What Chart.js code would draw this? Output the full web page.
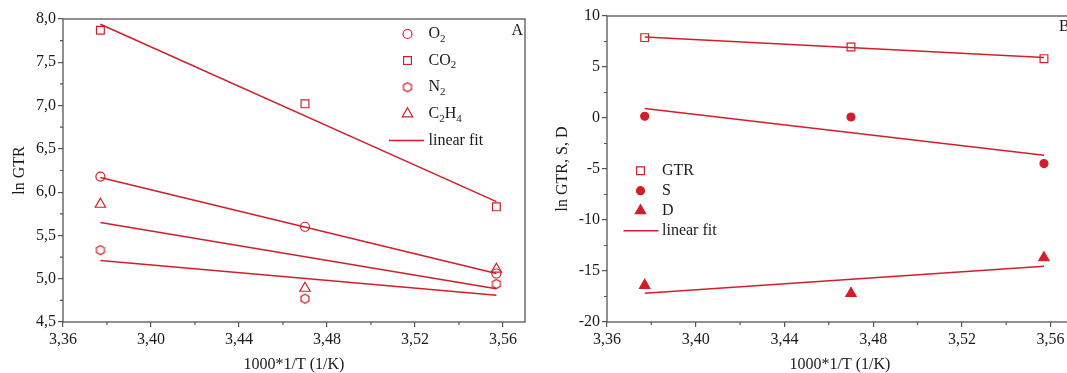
<!DOCTYPE html>
<html lang="en">
<head>
    <meta charset="UTF-8">
    <title>ln GTR x 1000/T</title>
    <script src="https://cdn.jsdelivr.net/npm/chart.js"></script>
    <style>
        html, body { margin: 0; padding: 0; background: #fff; overflow: hidden; width: 1067px; height: 373px; }
        .painel { position: absolute; top: 0; width: 540px; height: 373px; }
        #painelA { left: 0; }
        #painelB { left: 540px; }
    </style>
</head>
<body>
    <div class="painel" id="painelA"><canvas id="graficoA"></canvas></div>
    <div class="painel" id="painelB"><canvas id="graficoB"></canvas></div>

<script>
    // eixo x: 1000/T
    const invT = [3.377, 3.470, 3.557];
    const fitX = [3.377, 3.557];
    const xTicks = [3.36, 3.40, 3.44, 3.48, 3.52, 3.56];

    // painel A - ln GTR por gas
    const gasLabels = ['O_2', 'CO_2', 'N_2', 'C_2H_4'];
    const lnO2 = [6.18, 5.60, 5.06];
    const lnCO2 = [7.87, 7.02, 5.83];
    const lnN2 = [5.33, 4.77, 4.94];
    const lnC2H4 = [5.86, 4.89, 5.11];
    const fitO2 = [6.17, 5.06];
    const fitCO2 = [7.94, 5.89];
    const fitN2 = [5.21, 4.81];
    const fitC2H4 = [5.65, 4.885];
    const yTicksA = [4.5, 5.0, 5.5, 6.0, 6.5, 7.0, 7.5, 8.0];

    // painel B - ln GTR, S, D
    const labelsB = ['GTR', 'S', 'D'];
    const lnGTR = [7.88, 6.96, 5.82];
    const lnS = [0.17, 0.10, -4.47];
    const lnD = [-16.4, -17.2, -13.7];
    const fitGTR = [7.94, 5.92];
    const fitS = [0.92, -3.66];
    const fitD = [-17.19, -14.54];
    const yTicksB = [-20, -15, -10, -5, 0, 5, 10];

    const VERMELHO = '#d01f2b';
    const EIXO = '#555555';
    const TEXTO = '#1a1a1a';
    const FONTE = { family: '"Liberation Serif", "Times New Roman", serif', size: 16 };

    function pontos(xs, ys) {
        return xs.map((x, i) => ({ x: x, y: ys[i] }));
    }

    // N2 usa hexagono (nao existe no Chart.js)
    function hexagono() {
        const c = document.createElement('canvas');
        c.width = 12; c.height = 12;
        const g = c.getContext('2d');
        g.strokeStyle = VERMELHO;
        g.lineWidth = 1.2;
        g.beginPath();
        for (let i = 0; i < 6; i++) {
            const a = Math.PI / 3 * i - Math.PI / 2;
            const px = 6 + 4.6 * Math.cos(a), py = 6 + 4.6 * Math.sin(a);
            if (i) g.lineTo(px, py); else g.moveTo(px, py);
        }
        g.closePath();
        g.stroke();
        return c;
    }

    function serie(ys, estilo, raio, cheio) {
        return {
            data: pontos(invT, ys),
            showLine: false,
            pointStyle: estilo,
            pointRadius: raio,
            borderWidth: 1.2,
            borderColor: VERMELHO,
            backgroundColor: cheio ? VERMELHO : 'rgba(0,0,0,0)'
        };
    }

    function ajuste(ys) {
        return {
            data: pontos(fitX, ys),
            showLine: true,
            pointRadius: 0,
            borderWidth: 1.5,
            borderColor: VERMELHO,
            backgroundColor: VERMELHO
        };
    }

    // texto com subscrito: '_' antes do caractere
    function escreve(ctx, texto, x, y) {
        ctx.textBaseline = 'middle';
        ctx.textAlign = 'left';
        ctx.fillStyle = TEXTO;
        let sub = false;
        for (const ch of texto) {
            if (ch === '_') { sub = true; continue; }
            ctx.font = (sub ? 11 : 16) + 'px ' + FONTE.family;
            ctx.fillText(ch, x, sub ? y + 5 : y);
            x += ctx.measureText(ch).width;
            sub = false;
        }
    }

    const legendaInterna = {
        id: 'legendaInterna',
        afterDatasetsDraw(chart, args, opts) {
            const ctx = chart.ctx;
            ctx.save();
            opts.itens.forEach((item, i) => {
                const y = opts.y + i * opts.passo;
                if (item.linha) {
                    ctx.strokeStyle = VERMELHO;
                    ctx.lineWidth = 1.5;
                    ctx.beginPath();
                    ctx.moveTo(opts.linhaX0, y);
                    ctx.lineTo(opts.linhaX1, y);
                    ctx.stroke();
                } else {
                    const ds = chart.data.datasets[item.ds];
                    ctx.fillStyle = ds.backgroundColor;
                    ctx.strokeStyle = ds.borderColor;
                    ctx.lineWidth = ds.borderWidth;
                    Chart.helpers.drawPoint(ctx, {
                        pointStyle: ds.pointStyle, radius: ds.pointRadius,
                        borderWidth: ds.borderWidth, rotation: 0
                    }, opts.marcaX, y);
                }
                escreve(ctx, item.texto, opts.textoX, y);
            });
            ctx.font = '16px ' + FONTE.family;
            ctx.fillStyle = TEXTO;
            ctx.textAlign = opts.letra.align;
            ctx.textBaseline = 'middle';
            ctx.fillText(opts.letra.texto, opts.letra.x, opts.letra.y);
            ctx.restore();
        }
    };

    // moldura fechada + ticks menores
    const moldura = {
        id: 'moldura',
        afterDraw(chart) {
            const { ctx, chartArea: a, scales } = chart;
            ctx.save();
            ctx.strokeStyle = EIXO;
            ctx.lineWidth = 1.3;
            ctx.strokeRect(a.left, a.top, a.right - a.left, a.bottom - a.top);
            ctx.lineWidth = 1.2;
            ctx.beginPath();
            const xs = scales.x.ticks.map(t => t.value);
            for (let i = 0; i < xs.length - 1; i++) {
                const px = scales.x.getPixelForValue((xs[i] + xs[i + 1]) / 2);
                ctx.moveTo(px, a.bottom);
                ctx.lineTo(px, a.bottom + 3);
            }
            const ys = scales.y.ticks.map(t => t.value);
            for (let i = 0; i < ys.length - 1; i++) {
                const py = scales.y.getPixelForValue((ys[i] + ys[i + 1]) / 2);
                ctx.moveTo(a.left, py);
                ctx.lineTo(a.left - 3, py);
            }
            ctx.stroke();
            ctx.restore();
        }
    };

    function escalas(yMin, yMax, yTicks, casas, tituloY, larguraY, padTitulo) {
        return {
            x: {
                type: 'linear', min: 3.36, max: 3.57,
                afterBuildTicks: s => { s.ticks = xTicks.map(v => ({ value: v })); },
                afterFit: s => { s.height = 51; },
                grid: { drawOnChartArea: false, color: EIXO, tickLength: 5, lineWidth: 1.2 },
                border: { display: false },
                ticks: {
                    color: TEXTO, font: FONTE, padding: 3, maxRotation: 0,
                    callback: v => v.toFixed(2).replace('.', ',')
                },
                title: {
                    display: true, text: '1000*1/T (1/K)', color: TEXTO,
                    font: Object.assign({}, FONTE, { lineHeight: 1 }), padding: 0
                }
            },
            y: {
                type: 'linear', min: yMin, max: yMax,
                afterBuildTicks: s => { s.ticks = yTicks.map(v => ({ value: v })); },
                afterFit: s => { s.width = larguraY; },
                grid: { drawOnChartArea: false, color: EIXO, tickLength: 5, lineWidth: 1.2 },
                border: { display: false },
                ticks: {
                    color: TEXTO, font: FONTE, padding: 2,
                    callback: v => v.toFixed(casas).replace('.', ',')
                },
                title: {
                    display: true, text: tituloY, color: TEXTO,
                    font: Object.assign({}, FONTE, { lineHeight: 1 }),
                    padding: { top: padTitulo, bottom: 0 }
                }
            }
        };
    }

    const basePlugins = {
        legend: { display: false },
        tooltip: { enabled: false }
    };

    new Chart(document.getElementById('graficoA'), {
        type: 'scatter',
        data: {
            datasets: [
                serie(lnO2, 'circle', 4.5, false),
                serie(lnCO2, 'rect', 5.5, false),
                serie(lnN2, hexagono(), 5, false),
                serie(lnC2H4, 'triangle', 6, false),
                ajuste(fitO2),
                ajuste(fitCO2),
                ajuste(fitN2),
                ajuste(fitC2H4)
            ]
        },
        options: {
            responsive: true,
            maintainAspectRatio: false,
            animation: false,
            layout: { padding: { left: 0, top: 19, right: 15, bottom: 0 } },
            scales: escalas(4.5, 8.0, yTicksA, 1, 'ln GTR', 63, 12),
            plugins: Object.assign({}, basePlugins, {
                legendaInterna: {
                    y: 34, passo: 26.6, marcaX: 407.5, textoX: 428.5,
                    linhaX0: 389, linhaX1: 424,
                    itens: [
                        { ds: 0, texto: gasLabels[0] },
                        { ds: 1, texto: gasLabels[1] },
                        { ds: 2, texto: gasLabels[2] },
                        { ds: 3, texto: gasLabels[3] },
                        { linha: true, texto: 'linear fit' }
                    ],
                    letra: { texto: 'A', x: 523, y: 31, align: 'right' }
                }
            })
        },
        plugins: [legendaInterna, moldura]
    });

    new Chart(document.getElementById('graficoB'), {
        type: 'scatter',
        data: {
            datasets: [
                serie(lnGTR, 'rect', 5.5, false),
                serie(lnS, 'circle', 4, true),
                serie(lnD, 'triangle', 6, true),
                ajuste(fitGTR),
                ajuste(fitS),
                ajuste(fitD)
            ]
        },
        options: {
            responsive: true,
            maintainAspectRatio: false,
            animation: false,
            layout: { padding: { left: 0, top: 16, right: 7, bottom: 0 } },
            scales: escalas(-20, 10, yTicksB, 0, 'ln GTR, S, D', 67, 14.5),
            plugins: Object.assign({}, basePlugins, {
                legendaInterna: {
                    y: 170.7, passo: 20, marcaX: 100.5, textoX: 122,
                    linhaX0: 83.5, linhaX1: 118.5,
                    itens: [
                        { ds: 0, texto: labelsB[0] },
                        { ds: 1, texto: labelsB[1] },
                        { ds: 2, texto: labelsB[2] },
                        { linha: true, texto: 'linear fit' }
                    ],
                    letra: { texto: 'B', x: 519, y: 27, align: 'left' }
                }
            })
        },
        plugins: [legendaInterna, moldura]
    });
</script>
</body>
</html>
